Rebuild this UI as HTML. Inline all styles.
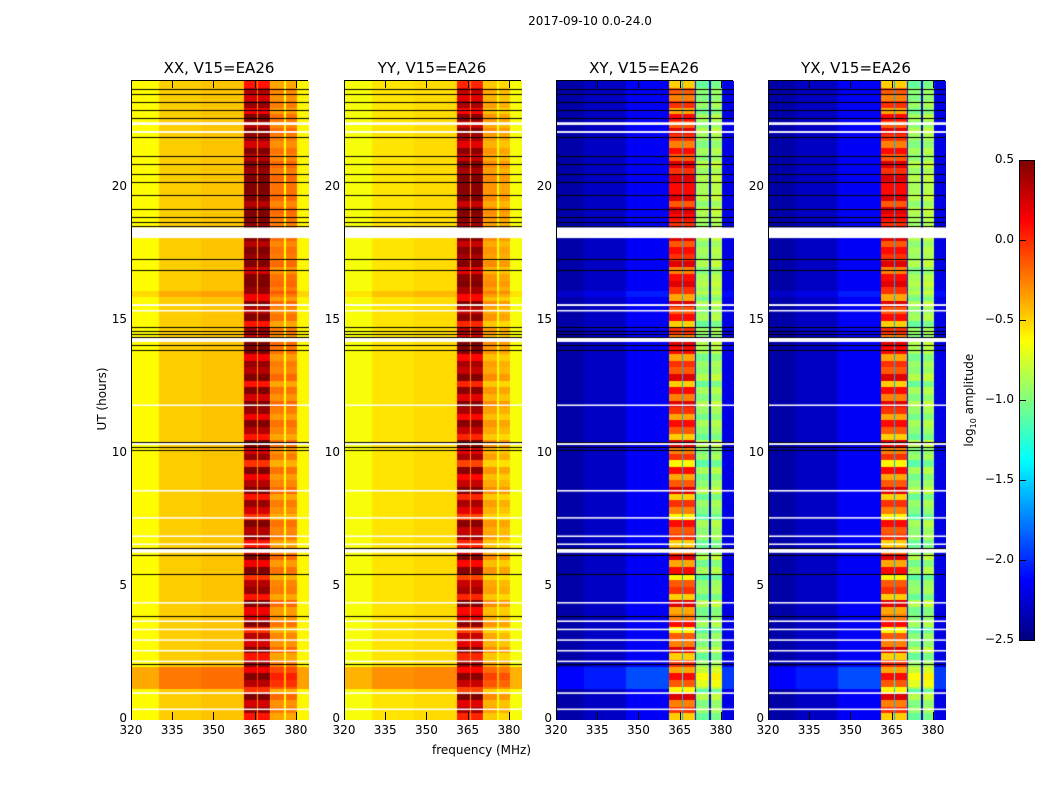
<!DOCTYPE html>
<html><head><meta charset="utf-8"><style>
body{margin:0;background:#fff;}
#root{position:relative;width:1050px;height:800px;background:#fff;font-family:"DejaVu Sans","Liberation Sans",sans-serif;color:#000;overflow:hidden}
.abs{position:absolute}
.panel{position:absolute;top:80px;width:177px;height:639px;border:1px solid #000;box-sizing:border-box}
.panel canvas{position:absolute;left:0;top:0}
.title{position:absolute;top:59px;font-size:15px;width:200px;text-align:center}
.tl{position:absolute;font-size:12px}
.tk{position:absolute;background:#000}
</style></head><body>
<div id="root">
<div class="abs" style="left:0;width:1180px;top:14px;text-align:center;font-size:12px">2017-09-10 0.0-24.0</div>
<div class="abs" style="left:432px;top:743px;font-size:12px">frequency (MHz)</div>
<div class="abs" style="left:52px;top:392px;font-size:12px;transform:rotate(-90deg);transform-origin:center;width:100px;text-align:center">UT (hours)</div>
<div class="abs" style="left:915px;top:392px;font-size:12px;transform:rotate(-90deg);width:110px;text-align:center">log<sub style="font-size:8px">10</sub> amplitude</div>
<div class="abs" id="cbar" style="left:1019px;top:160px;width:16px;height:481px;border:1px solid #000;box-sizing:border-box"></div>
</div>
<script>
const panelNames=["XX, V15=EA26","YY, V15=EA26","XY, V15=EA26","YX, V15=EA26"];
const panelLefts=[131,344,556,768];
const segEdges=[320,330,345,360.7,365.5,365.8,370.2,370.5,375.3,376,380,384.4];
const levelsXX=[-0.62,-0.48,-0.45,0.25,-0.3,0.25,-0.4,-0.3,-0.65,-0.3,-0.6];
const levelsYY=[-0.65,-0.55,-0.52,0.2,-0.3,0.2,-0.5,-0.4,-0.65,-0.45,-0.65];
const levelsXY=[-2.38,-2.3,-2.15,-0.25,-1.6,-0.25,-2.1,-1.0,-2.3,-0.95,-2.2];
const bandAmp=[0,0,0,0.9,0,0.9,0.3,0.3,0,0.3,0];
const timeMod=[0.3,0.7,0.5,0.9,0.2,0.6,0.8,0.4,0.7,0.3,0.9,0.5,0.6,0.2,0.8,0.5,
0.4,0.9,0.3,0.7,0.6,0.2,0.8,0.4,0.9,0.5,0.3,0.7,0.6,0.8,0.2,0.5,
0.7,0.3,0.9,0.6,0.4,0.8,0.2,0.7,0.5,0.9,0.3,0.6,0.8,0.4,0.7,0.9,
0.5,0.8,0.3,0.9,0.6,0.7,0.4,0.8,0.9,0.5,0.7,0.3,0.8,0.6,0.9,0.4,
0.7,0.9,0.8,0.5,0.9,0.7,0.8,0.6,0.9,0.9,0.7,0.8,0.9,0.6,0.9,0.8,
0.8,0.9,0.7,0.9,0.6,0.8,0.5,0.7,0.9,0.6,0.8,0.4,0.7,0.5,0.6,0.3];
const boostRanges=[[1.15,2.0,0.25],[15.9,16.1,0.1]];
const whiteRows=[[18.1,18.5],[14.2,14.35],[10.33,10.4],[6.28,6.42],[22.35,22.45],[22.05,22.12],[15.55,15.62],[15.35,15.4],[8.58,8.64],[7.57,7.62],[6.88,6.93],[6.58,6.63],[4.38,4.43],[3.68,3.74],[3.38,3.43],[2.98,3.03],[2.58,2.63],[2.18,2.23],[0.98,1.04],[0.38,0.43],[11.8,11.85]];
const blackRows=[23.7,23.5,23.2,22.9,22.6,21.9,21.2,20.9,20.5,20.2,19.7,19.2,18.9,18.7,18.55,17.3,16.9,14.75,14.62,14.5,14.4,14.1,13.9,10.45,10.25,10.15,6.45,6.2,5.5,3.9,2.1];
const freqTicks=[320,335,350,365,380];
const hourTicks=[0,5,10,15,20];
const cbarTicks=[-2.5,-2.0,-1.5,-1.0,-0.5,0.0,0.5];

const FMIN=320,FMAX=384.4,TMIN=0,TMAX=24,W=177,H=639,VMIN=-2.5,VMAX=0.5;
function xs(f){return (f-FMIN)/(FMAX-FMIN)*W;}
function ys(t){return (TMAX-t)/(TMAX-TMIN)*H;}
function cl(v){return Math.max(0,Math.min(1,v));}
function jet(v){const n=cl((v-VMIN)/(VMAX-VMIN));return [cl(1.5-Math.abs(4*n-3)),cl(1.5-Math.abs(4*n-2)),cl(1.5-Math.abs(4*n-1))].map(c=>Math.round(c*255));}
const root=document.getElementById('root');
const allLevels=[levelsXX,levelsYY,levelsXY,levelsXY];
panelNames.forEach((name,p)=>{
  const left=panelLefts[p];
  const panel=document.createElement('div');panel.className='panel';panel.style.left=left+'px';
  
  
  root.appendChild(panel);
  const cv=document.createElement('canvas');cv.width=W;cv.height=H;
  
  
  panel.appendChild(cv);
  const ctx=cv.getContext('2d');const img=ctx.createImageData(W,H);
  const lv=allLevels[p];
  for(let py=0;py<H;py++){
    const t=TMAX-(py+0.5)/H*(TMAX-TMIN);
    const row=Math.min(95,Math.floor(t*4));
    let boost=0;boostRanges.forEach(r=>{if(t>=r[0]&&t<r[1])boost+=r[2];});
    for(let px=0;px<W;px++){
      const f=FMIN+(px+0.5)/W*(FMAX-FMIN);
      let s=0;while(s<segEdges.length-2&&f>=segEdges[s+1])s++;
      let v=lv[s]+(timeMod[row]-0.5)*bandAmp[s]*(p>=2?1.3:1)+(bandAmp[s]>0.5?0:boost);
      const c=jet(v);const i=(py*W+px)*4;
      img.data[i]=c[0];img.data[i+1]=c[1];img.data[i+2]=c[2];img.data[i+3]=255;
    }
  }
  ctx.putImageData(img,0,0);
  ctx.fillStyle='#fff';
  whiteRows.forEach(r=>{const y0=ys(r[1]),y1=ys(r[0]);ctx.fillRect(0,y0,W,Math.max(1.5,y1-y0));});
  ctx.fillStyle='#000';
  blackRows.forEach(h=>{ctx.fillRect(0,Math.round(ys(h)),W,1);});
  const tt=document.createElement('div');tt.className='title';tt.style.left=(left+88-100)+'px';tt.textContent=name;
  
  
  root.appendChild(tt);
  freqTicks.forEach(f=>{
    const x=left+xs(f);
    const l=document.createElement('div');l.className='tl';l.style.left=(x-12)+'px';l.style.width='24px';l.style.textAlign='center';l.style.top='723px';l.textContent=f;
    
    
    root.appendChild(l);
    [[712,8],[80,8]].forEach(a=>{const k=document.createElement('div');k.className='tk';k.style.left=x+'px';k.style.top=a[0]+'px';k.style.width='1px';k.style.height=a[1]+'px';
      
      
      root.appendChild(k);});
  });
  hourTicks.forEach(h=>{
    const y=80+ys(h);
    const l=document.createElement('div');l.className='tl';l.style.left=(left-30)+'px';l.style.width='26px';l.style.textAlign='right';l.style.top=(y-8)+'px';l.textContent=h;
    
    
    root.appendChild(l);
  });
});
const cb=document.getElementById('cbar');
const cbc=document.createElement('canvas');cbc.width=14;cbc.height=479;cbc.style.position='absolute';cbc.style.left='0';cbc.style.top='0';


cb.appendChild(cbc);
const cctx=cbc.getContext('2d');
for(let y=0;y<479;y++){const v=VMAX-(y+0.5)/479*(VMAX-VMIN);const c=jet(v);cctx.fillStyle='rgb('+c.join(',')+')';cctx.fillRect(0,y,14,1);}
cbarTicks.forEach(v=>{
  const y=160+(VMAX-v)/(VMAX-VMIN)*480;
  const l=document.createElement('div');l.className='tl';l.style.left='978px';l.style.width='36px';l.style.textAlign='right';l.style.top=(y-8)+'px';l.textContent=(v<0?'\u2212':'')+Math.abs(v).toFixed(1);
  
  
  root.appendChild(l);
  const k=document.createElement('div');k.className='tk';k.style.left='1020px';k.style.top=y+'px';k.style.width='6px';k.style.height='1px';
  
  
  root.appendChild(k);
});
</script>
</body></html>
